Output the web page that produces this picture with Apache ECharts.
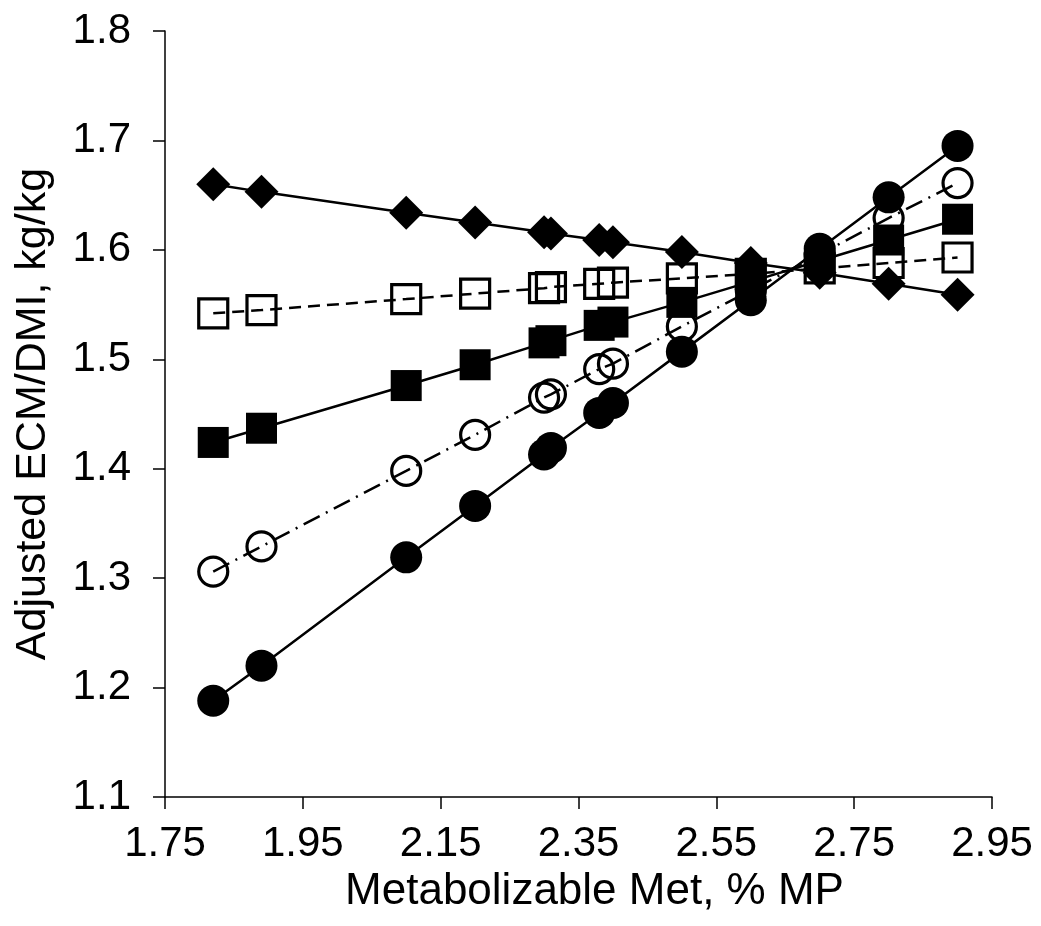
<!DOCTYPE html>
<html>
<head>
<meta charset="utf-8">
<script src="https://cdn.jsdelivr.net/npm/echarts@6/dist/echarts.min.js"></script>
<style>
  html, body { margin: 0; padding: 0; background: #fff; }
  #myChart { width: 1041px; height: 926px; }
</style>
</head>
<body>
<div id="myChart"></div>
<script>
// Met 水平（x 轴）
var metLevels = [1.82, 1.89, 2.10, 2.20, 2.30, 2.31, 2.38, 2.40, 2.50, 2.60, 2.70, 2.80, 2.90]
// 各条曲线的值
var diamondVals = [1.660, 1.653, 1.634, 1.625, 1.616, 1.615, 1.609, 1.607, 1.598, 1.588, 1.579, 1.569, 1.559]
var openSquareVals = [1.542, 1.545, 1.555, 1.560, 1.565, 1.566, 1.569, 1.570, 1.574, 1.578, 1.583, 1.588, 1.593]
var filledSquareVals = [1.424, 1.437, 1.476, 1.495, 1.515, 1.517, 1.531, 1.534, 1.552, 1.571, 1.590, 1.609, 1.628]
var openCircleVals = [1.306, 1.329, 1.398, 1.431, 1.465, 1.468, 1.491, 1.496, 1.530, 1.563, 1.596, 1.629, 1.661]
var filledCircleVals = [1.188, 1.220, 1.319, 1.366, 1.413, 1.419, 1.451, 1.460, 1.507, 1.554, 1.601, 1.648, 1.695]

var font = '"Liberation Sans", Arial, sans-serif'

function pairs (ys) {
  var out = []
  for (var i = 0; i < metLevels.length; i++) {
    out.push([metLevels[i], ys[i]])
  }
  return out
}

function makeSeries (name, ys, symbol, size, open, lineType) {
  return {
    name: name,
    type: 'line',
    data: pairs(ys),
    symbol: symbol,
    symbolSize: size,
    showAllSymbol: true,
    lineStyle: { color: '#000', width: 2.5, type: lineType },
    itemStyle: open
      ? { color: 'rgba(0,0,0,0)', borderColor: '#000', borderWidth: 3.2 }
      : { color: '#000', borderWidth: 0 },
    emphasis: { disabled: true },
    animation: false
  }
}

var myChart = echarts.init(document.getElementById('myChart'))
myChart.setOption({
  backgroundColor: '#fff',
  animation: false,
  grid: { left: 165, right: 49, top: 31, bottom: 129, outerBoundsMode: 'none' },
  xAxis: {
    type: 'value',
    min: 1.75,
    max: 2.95,
    interval: 0.2,
    name: 'Metabolizable Met, % MP',
    nameLocation: 'middle',
    nameGap: 68,
    nameTextStyle: { fontFamily: font, fontSize: 44, color: '#000', padding: [0, 0, 0, 32] },
    splitLine: { show: false },
    axisLine: { lineStyle: { color: '#000', width: 1.5 } },
    axisTick: { show: true, length: 12, lineStyle: { color: '#000', width: 1.5 } },
    axisLabel: {
      fontFamily: font, fontSize: 42, color: '#000', margin: 26,
      formatter: function (v) { return v.toFixed(2) }
    }
  },
  yAxis: {
    type: 'value',
    min: 1.1,
    max: 1.8,
    interval: 0.1,
    name: 'Adjusted ECM/DMI, kg/kg',
    nameLocation: 'middle',
    nameGap: 110,
    nameTextStyle: { fontFamily: font, fontSize: 43, color: '#000' },
    splitLine: { show: false },
    axisLine: { show: true, lineStyle: { color: '#000', width: 1.5 } },
    axisTick: { show: true, length: 12, lineStyle: { color: '#000', width: 1.5 } },
    axisLabel: {
      fontFamily: font, fontSize: 42, color: '#000', margin: 34,
      formatter: function (v) { return v.toFixed(1) }
    }
  },
  series: [
    makeSeries('open square', openSquareVals, 'rect', 29, true, [12, 7]),
    makeSeries('open circle', openCircleVals, 'circle', 29, true, [18, 7, 2, 7]),
    makeSeries('diamond', diamondVals, 'diamond', 34, false, 'solid'),
    makeSeries('filled square', filledSquareVals, 'rect', 31, false, 'solid'),
    makeSeries('filled circle', filledCircleVals, 'circle', 32, false, 'solid')
  ]
})
</script>
</body>
</html>
